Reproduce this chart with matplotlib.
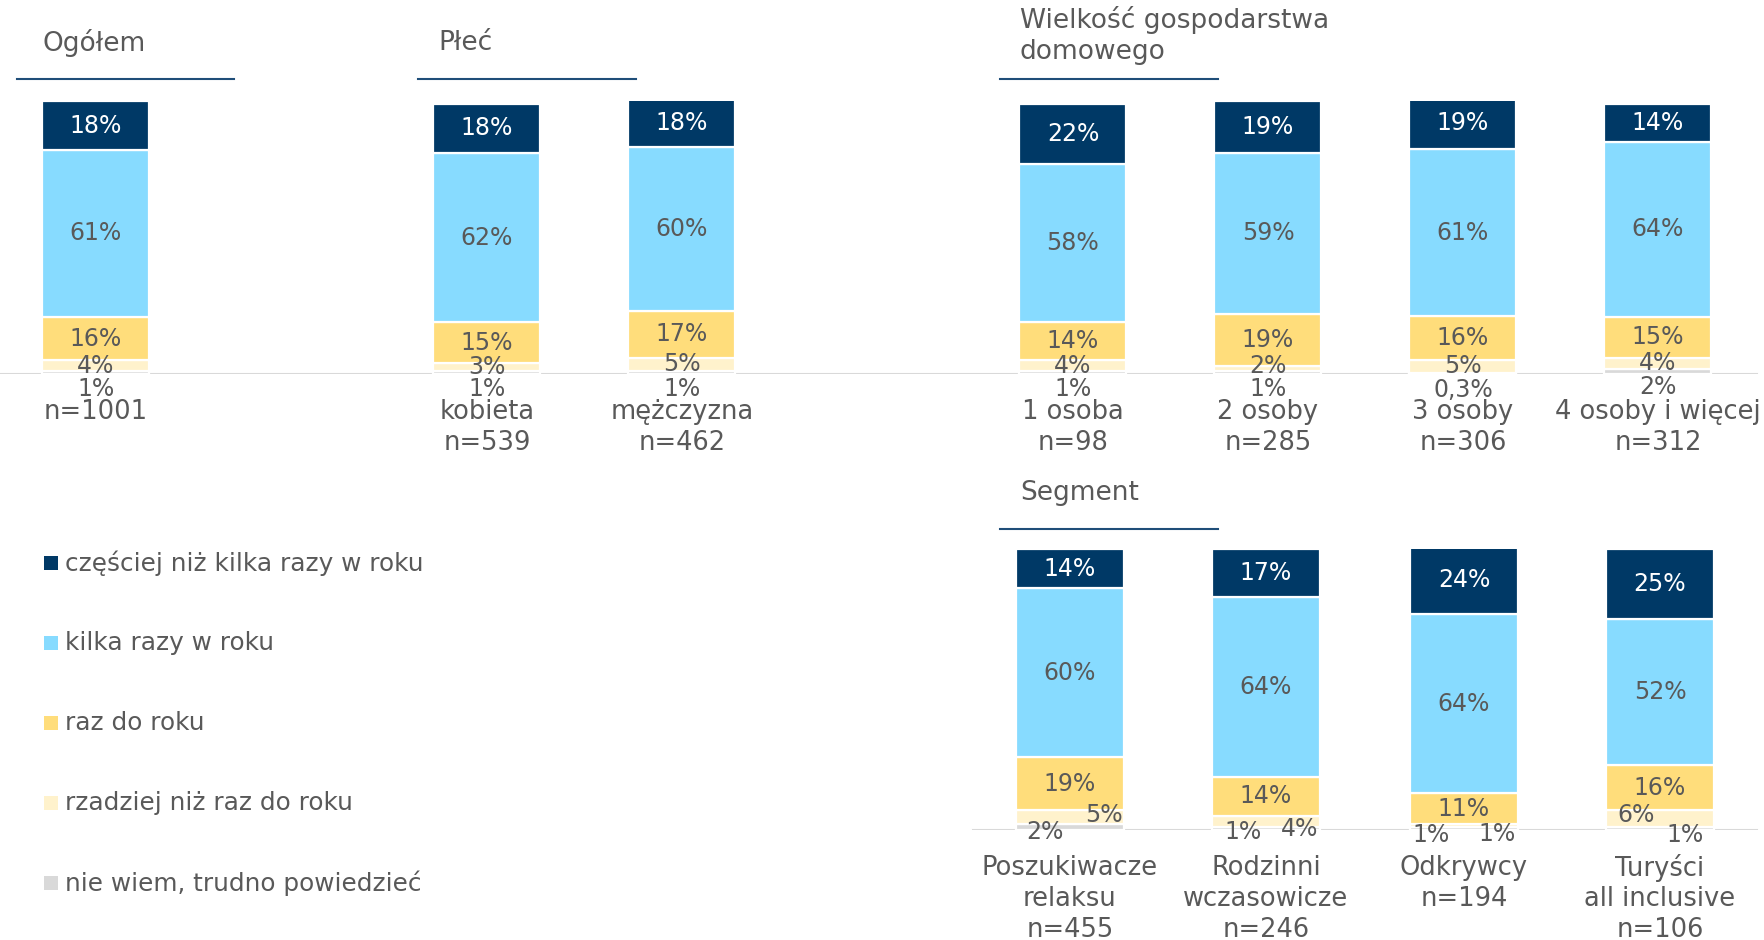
import matplotlib.pyplot as plt

plt.rcParams['font.family'] = ['DejaVu Sans']

series = ['częściej niż kilka razy w roku', 'kilka razy w roku', 'raz do roku',
          'rzadziej niż raz do roku', 'nie wiem, trudno powiedzieć']
colors = ['#003966', '#87DBFF', '#FFDD7B', '#FFF2CC', '#D9D9D9']
grey = '#595959'

# top row: Ogółem, Płeć, Wielkość gospodarstwa domowego
top_cats = ['n=1001', 'kobieta\nn=539', 'mężczyzna\nn=462', '1 osoba\nn=98',
            '2 osoby\nn=285', '3 osoby\nn=306', '4 osoby i więcej\nn=312']
czesciej_top = [18, 18, 18, 22, 19, 19, 14]
kilka_top = [61, 62, 60, 58, 59, 61, 64]
raz_top = [16, 15, 17, 14, 19, 16, 15]
rzadziej_top = [4, 3, 5, 4, 2, 5, 4]
niewiem_top = [1, 1, 1, 1, 1, 0.3, 2]

# bottom row: Segment
seg_cats = ['Poszukiwacze\nrelaksu\nn=455', 'Rodzinni\nwczasowicze\nn=246',
            'Odkrywcy\nn=194', 'Turyści\nall inclusive\nn=106']
czesciej_seg = [14, 17, 24, 25]
kilka_seg = [60, 64, 64, 52]
raz_seg = [19, 14, 11, 16]
rzadziej_seg = [5, 4, 1, 6]
niewiem_seg = [2, 1, 1, 1]

W, H = 1765, 940
fig = plt.figure(figsize=(W / 100, H / 100), dpi=100)

# overlay in pixel units for headers and legend
ov = fig.add_axes([0, 0, 1, 1])
ov.set_xlim(0, W)
ov.set_ylim(H, 0)
ov.axis('off')

FS = 17        # values
FS_CAT = 18.5  # category labels
FS_LEG = 17.8
FS_HEAD = 19


def fmt(v):
    if v == int(v):
        return f'{int(v)}%'
    return f'{v}%'.replace('.', ',')


def row_axes(base_px, full_px):
    ax = fig.add_axes([0, 1 - base_px / H, 1, full_px / H])
    ax.set_xlim(0, W)
    ax.set_ylim(0, 100)
    ax.axis('off')
    ax.patch.set_alpha(0)
    return ax


def draw_row(ax, xs, width, stacks, cats, small_pos):
    bottoms = [0] * len(xs)
    order = [4, 3, 2, 1, 0]
    segs = {}
    for k in order:
        vals = stacks[k]
        ax.bar(xs, vals, width=width, bottom=bottoms, color=colors[k],
               edgecolor='white', linewidth=1.6, zorder=2)
        segs[k] = [(b, v) for b, v in zip(bottoms, vals)]
        bottoms = [b + v for b, v in zip(bottoms, vals)]
    for i, x in enumerate(xs):
        for k in [0, 1, 2]:
            b, v = segs[k][i]
            ax.text(x, b + v / 2, fmt(v), ha='center', va='center', fontsize=FS,
                    color='white' if k == 0 else grey, zorder=4)
        for k in [3, 4]:
            b, v = segs[k][i]
            dx, dy = small_pos[k][i]
            ax.annotate(fmt(v), (x, b + v / 2), xytext=(dx, dy),
                        textcoords='offset pixels', ha='center', va='center',
                        fontsize=FS, color=grey, zorder=4, annotation_clip=False)
        for j, line in enumerate(cats[i].split('\n')):
            ax.annotate(line, (x, 0), xytext=(0, -38 - 31 * j),
                        textcoords='offset pixels', ha='center', va='center',
                        fontsize=FS_CAT, color=grey, annotation_clip=False)


# top row bars
top_x = [96, 487, 682, 1073, 1268, 1463, 1658]
ax1 = row_axes(374, 273)
ax1.plot([0, 1757], [0, 0], color='#D9D9D9', lw=1.5, zorder=1)
top_small = {3: [(0, 0), (0, 0), (0, 0), (0, 0), (0, 3), (0, 0), (0, 0)],
             4: [(0, -16)] * 7}
draw_row(ax1, top_x, 107,
         [czesciej_top, kilka_top, raz_top, rzadziej_top, niewiem_top],
         top_cats, top_small)

# segment row bars
seg_x = [1070, 1266, 1464, 1660]
ax2 = row_axes(830, 281)
ax2.plot([973, 1757], [0, 0], color='#D9D9D9', lw=1.5, zorder=1)
seg_small = {3: [(34, 2), (34, -7), (33, -8), (-24, 4)],
             4: [(-25, -5), (-23, -3), (-33, -6), (25, -6)]}
draw_row(ax2, seg_x, 108,
         [czesciej_seg, kilka_seg, raz_seg, rzadziej_seg, niewiem_seg],
         seg_cats, seg_small)

# group headers with underlines
headers = [('Ogółem', 43, [43], 17, 234, 79),
           ('Płeć', 438, [43], 418, 636, 79),
           ('Wielkość gospodarstwa\ndomowego', 1020, [20, 52], 1000, 1218, 79),
           ('Segment', 1020, [493], 1000, 1218, 529)]
for text, tx, tys, x0, x1, ly in headers:
    for line, ty in zip(text.split('\n'), tys):
        ov.text(tx, ty, line, ha='left', va='center', fontsize=FS_HEAD, color=grey)
    ov.plot([x0, x1], [ly, ly], color='#1F4E79', lw=1.5)

# legend
for k, name in enumerate(series):
    y = 563 + 80 * k
    ov.scatter([51], [y], marker='s', s=90, color=colors[k], linewidths=0)
    ov.text(65, y, name, ha='left', va='center', fontsize=FS_LEG, color=grey)

fig.savefig('out.png', dpi=100)
